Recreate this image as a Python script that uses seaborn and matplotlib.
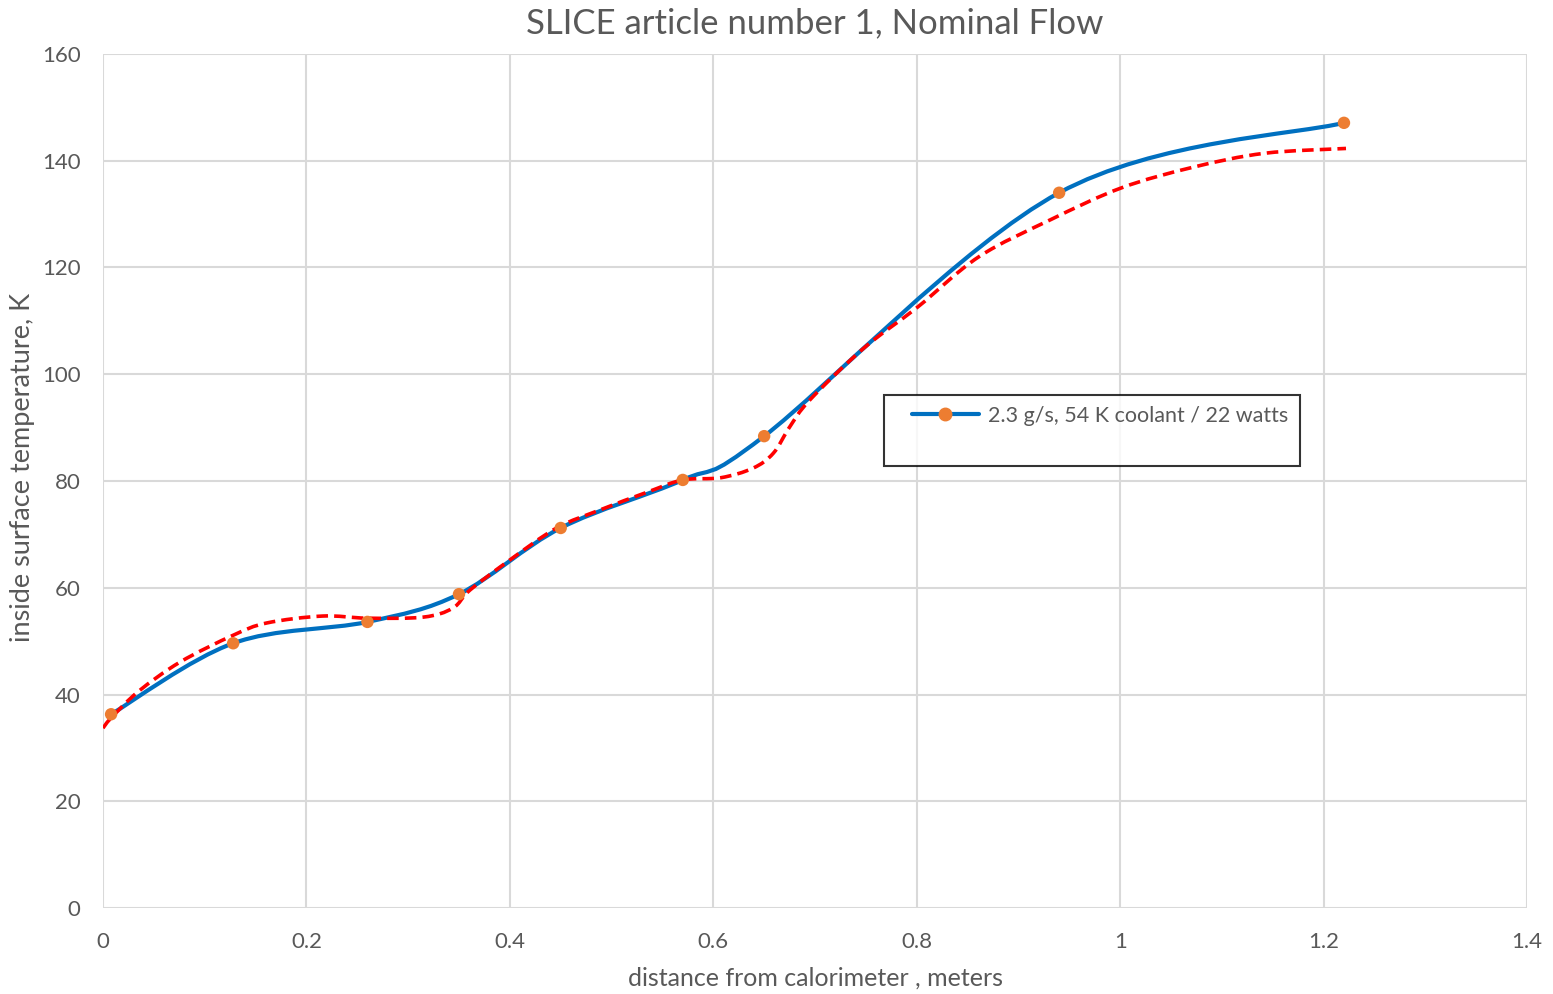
import numpy as np
import matplotlib
matplotlib.use("Agg")
import matplotlib.pyplot as plt
import seaborn as sns
from matplotlib.path import Path
from matplotlib.patches import PathPatch
from matplotlib.lines import Line2D
from matplotlib.legend_handler import HandlerLine2D

# measured points (distance, m / inside surface temperature, K)
distance = [0.008, 0.128, 0.26, 0.35, 0.45, 0.57, 0.65, 0.94, 1.22]
temperature = [36.3, 49.6, 53.6, 58.8, 71.2, 80.2, 88.4, 134.0, 147.1]

# red dashed curve
fit_x = [0.0, 0.008, 0.035, 0.076, 0.128, 0.161, 0.216, 0.26, 0.315, 0.344, 0.361,
         0.40, 0.446, 0.489, 0.535, 0.57, 0.607, 0.639, 0.659, 0.675, 0.695,
         0.748, 0.801, 0.861, 0.931, 1.001, 1.072, 1.142, 1.222]
fit_y = [33.7, 35.6, 40.6, 46.1, 51.1, 53.4, 54.7, 54.3, 54.5, 56.2, 59.6,
         65.2, 71.2, 74.6, 77.9, 80.2, 80.6, 82.4, 85.2, 90.1, 95.2,
         104.9, 112.6, 122.0, 128.9, 134.9, 138.8, 141.4, 142.3]

series_label = "2.3 g/s, 54 K coolant / 22 watts"
title = "SLICE article number 1, Nominal Flow"

BLUE = "#0070C0"
ORANGE = "#ED7D31"
GREY_TXT = "#595959"
GRID = "#D9D9D9"


def smooth_path(xs, ys):
    # Excel-style smoothed line: cubic Bezier through every point
    pts = np.column_stack([xs, ys]).astype(float)
    n = len(pts)
    verts = [pts[0]]
    codes = [Path.MOVETO]
    for i in range(n - 1):
        p0 = pts[max(i - 1, 0)]
        p1 = pts[i]
        p2 = pts[i + 1]
        p3 = pts[min(i + 2, n - 1)]
        verts += [p1 + (p2 - p0) / 6, p2 - (p3 - p1) / 6, p2]
        codes += [Path.CURVE4] * 3
    return Path(verts, codes)


sns.set_theme(style="white")
plt.rcParams["font.family"] = ["Lato", "DejaVu Sans"]

fig = plt.figure(figsize=(15.53, 9.94), dpi=100)
ax = fig.add_axes([0.0663, 0.0865, 0.9170, 0.8592])

ax.add_patch(PathPatch(smooth_path(distance, temperature), fill=False,
                       edgecolor=BLUE, linewidth=3.0, capstyle="round", zorder=3))
ax.add_patch(PathPatch(smooth_path(fit_x, fit_y), fill=False,
                       edgecolor="red", linewidth=2.6, linestyle=(0, (3.2, 1.7)),
                       zorder=4))
sns.scatterplot(x=distance, y=temperature, ax=ax, color=ORANGE, s=80,
                edgecolor="none", zorder=5)

ax.set_xlim(0, 1.4)
ax.set_ylim(0, 160)
ax.set_xticks(np.arange(0, 1.41, 0.2))
ax.set_xticklabels(["0", "0.2", "0.4", "0.6", "0.8", "1", "1.2", "1.4"])
ax.set_yticks(np.arange(0, 161, 20))
ax.grid(True, color=GRID, linewidth=1.5)
for s in ax.spines.values():
    s.set_visible(False)
ax.tick_params(length=0, labelsize=16, colors=GREY_TXT)
ax.tick_params(axis="x", pad=17)
ax.tick_params(axis="y", pad=16)

ax.set_title(title, fontsize=25, color=GREY_TXT, pad=15)
ax.set_xlabel("distance from calorimeter , meters", fontsize=18, color=GREY_TXT, labelpad=11)
ax.set_ylabel("inside surface temperature, K", fontsize=19.5, color=GREY_TXT)
ax.yaxis.set_label_coords(-0.0477, 0.516)

handle = Line2D([], [], color=BLUE, linewidth=3.0, marker="o", markersize=9,
                markerfacecolor=ORANGE, markeredgecolor=ORANGE)
blank = Line2D([], [], color="none")
leg = ax.legend([handle, blank], [series_label, " "], loc="upper left",
                bbox_to_anchor=(0.5485, 0.601), borderaxespad=0, fontsize=15.5,
                frameon=True, fancybox=False, edgecolor="black",
                handlelength=3.9, handletextpad=0.45,
                handler_map={handle: HandlerLine2D(xpad=0.8)},
                borderpad=0.5, labelcolor=GREY_TXT, labelspacing=0.45)
leg.get_frame().set_linewidth(1.5)

fig.savefig("out.png", dpi=100)
